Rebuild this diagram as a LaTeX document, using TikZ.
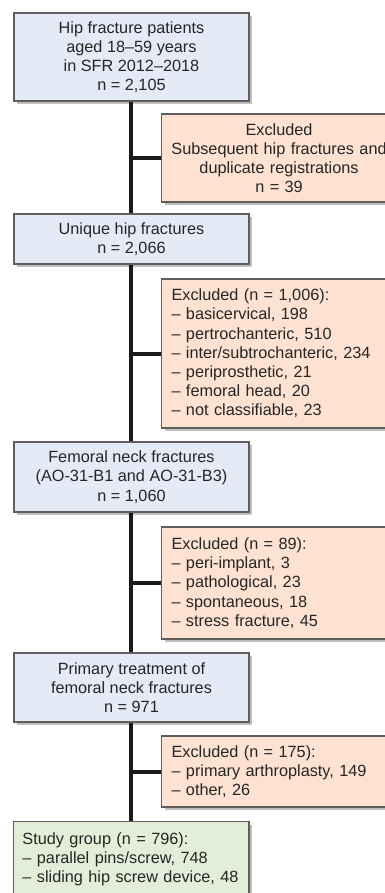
\documentclass[tikz,border=0pt]{standalone}
\usepackage{fontspec}
\setmainfont{Liberation Sans}
\usetikzlibrary{shadows}
\definecolor{boxblue}{HTML}{E4EAF6}
\definecolor{boxorange}{HTML}{FDE1D1}
\definecolor{boxgreen}{HTML}{E3EED8}
\definecolor{boxline}{HTML}{5E5E5E}
\definecolor{spinecol}{HTML}{1A1A1A}

\begin{document}
\begin{tikzpicture}[x=1pt,y=1pt, every node/.style={font=\fontsize{12.2}{14.4}\selectfont, text=black!85},
    flowbox/.style={draw=boxline, line width=0.8pt, fill=boxblue, minimum width=176.25pt, align=center, inner sep=4pt,
      drop shadow={shadow xshift=2.5pt, shadow yshift=-2.5pt, opacity=0.5}},
    exbox/.style={flowbox, fill=boxorange, anchor=west, text width=163pt, inner xsep=7.5pt, align=left},
    spine/.style={line width=3pt, draw=spinecol}]
    \useasboundingbox (0,0) rectangle (288.75,669.75);
    \clip (0,0) rectangle (288.75,669.75);
    \node[flowbox, minimum height=66pt] (patients) at (98.6,627) {Hip fracture patients\\aged 18--59 years\\in SFR 2012--2018\\n = 2,105};
    \node[exbox, align=center, text width=164pt, inner xsep=4pt, minimum height=66pt] (excdup) at (120.75,551.25) {Excluded\\Subsequent hip fractures and\\duplicate registrations\\n = 39};
    \node[flowbox, minimum height=37.5pt] (unique) at (98.6,490.5) {Unique hip fractures\\n = 2,066};
    \node[exbox, minimum height=111.75pt] (exctype) at (120.75,404.6) {Excluded (n = 1,006):\\-- basicervical, 198\\-- pertrochanteric, 510\\-- inter/subtrochanteric, 234\\-- periprosthetic, 21\\-- femoral head, 20\\-- not classifiable, 23};
    \node[flowbox, minimum height=52.5pt] (neck) at (98.6,312) {Femoral neck fractures\\(AO-31-B1 and AO-31-B3)\\n = 1,060};
    \node[exbox, minimum height=84pt] (exccause) at (120.75,232.5) {Excluded (n = 89):\\-- peri-implant, 3\\-- pathological, 23\\-- spontaneous, 18\\-- stress fracture, 45};
    \node[flowbox, minimum height=51.75pt] (primary) at (98.6,154.1) {Primary treatment of\\femoral neck fractures\\n = 971};
    \node[exbox, minimum height=53.25pt] (exctreat) at (120.75,91.1) {Excluded (n = 175):\\-- primary arthroplasty, 149\\-- other, 26};
    \node[flowbox, fill=boxgreen, anchor=north, minimum height=57pt, text width=163.5pt, inner xsep=6.4pt, align=left] (study) at (98.6,54) {Study group (n = 796):\\-- parallel pins/screw, 748\\-- sliding hip screw device, 48};
    \draw[spine] (patients.south) -- (unique.north);
    \draw[spine] (unique.south) -- (neck.north);
    \draw[spine] (neck.south) -- (primary.north);
    \draw[spine] (primary.south) -- (study.north);
    \draw[spine] (patients.south |- excdup.west) -- (excdup.west);
    \draw[spine] (unique.south |- exctype.west) -- (exctype.west);
    \draw[spine] (neck.south |- exccause.west) -- (exccause.west);
    \draw[spine] (primary.south |- exctreat.west) -- (exctreat.west);
\end{tikzpicture}
\end{document}
